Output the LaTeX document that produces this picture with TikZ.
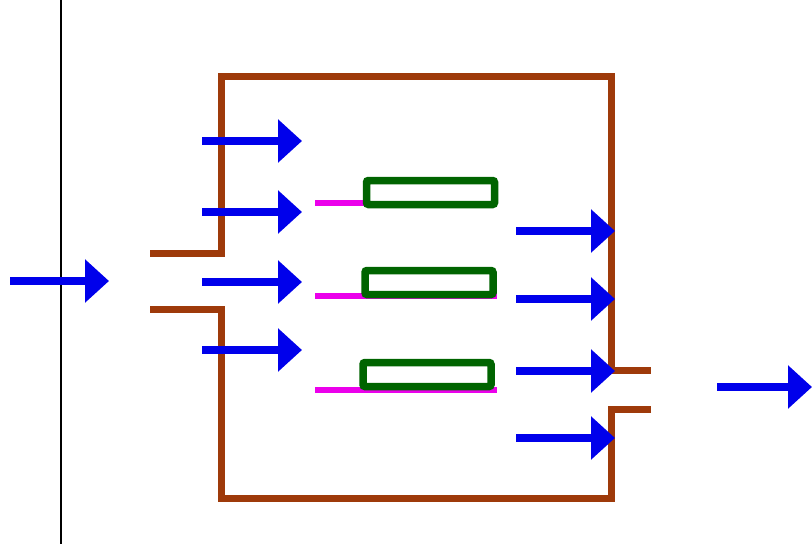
\documentclass[tikz,border=0pt]{standalone}
\usetikzlibrary{arrows.meta}
\definecolor{wallbrown}{RGB}{158,58,10}
\definecolor{plategreen}{RGB}{0,100,0}
\definecolor{feedmag}{RGB}{235,0,235}
\definecolor{flowblue}{RGB}{0,0,235}
\tikzset{
  flow/.style={draw=flowblue, line width=7.5pt, -{Triangle[length=24pt,width=42pt]}},
  wall/.style={draw=wallbrown, line width=7pt, line join=miter},
  plate/.style={draw=plategreen, line width=7.5pt, rounded corners=2pt, fill=white, inner sep=0pt, minimum width=128pt, minimum height=24pt},
  feed/.style={draw=feedmag, line width=6pt},
}
\begin{document}
\begin{tikzpicture}[x=1pt,y=-1pt]
\useasboundingbox (0,0) rectangle (812,544);
% thin vertical line
\draw[line width=1.3pt] (61,0) -- (61,544);
% enclosure
\draw[wall] (150,253) -- (221,253) -- (221,76) -- (611,76) -- (611,370) -- (651,370);
\draw[wall] (651,409) -- (611,409) -- (611,498) -- (221,498) -- (221,309) -- (150,309);
% magenta feed lines
\draw[feed] (315,203) -- (364,203);
\draw[feed] (315,296) -- (497,296);
\draw[feed] (315,390) -- (497,390);
% green plates
\node[plate] (p1) at (430.5,192.5) {};
\node[plate] (p2) at (429,282.5) {};
\node[plate] (p3) at (427,374.5) {};
% coordinates for flows
\coordinate (in0) at (10,281);   \coordinate (in1) at (109,281);
\coordinate (out0) at (717,387); \coordinate (out1) at (812,387);
\foreach \i/\y in {1/141,2/212,3/282,4/350}{
  \coordinate (la\i) at (202,\y); \coordinate (lb\i) at (302,\y);
  \draw[flow] (la\i) -- (lb\i);
}
\foreach \i/\y in {1/231,2/299,3/371,4/438}{
  \coordinate (ra\i) at (516,\y); \coordinate (rb\i) at (615,\y);
  \draw[flow] (ra\i) -- (rb\i);
}
\draw[flow] (in0) -- (in1);
\draw[flow] (out0) -- (out1);
\end{tikzpicture}
\end{document}
